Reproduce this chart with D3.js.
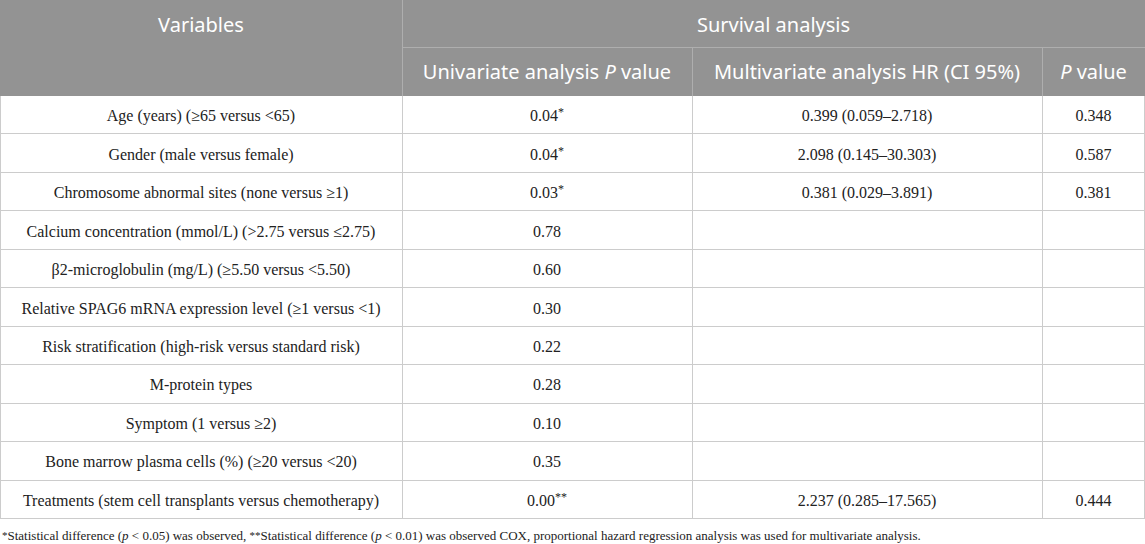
<!DOCTYPE html>
<html>
<head>
<meta charset="utf-8">
<script src="https://cdn.jsdelivr.net/npm/d3@7"></script>
<style>
  body { margin: 0; background: #fff; }
  svg { display: block; }
</style>
</head>
<body>
<svg id="table" width="1145" height="544"></svg>
<script>
// table contents
var variables = [
  "Age (years) (\u226565 versus <65)",
  "Gender (male versus female)",
  "Chromosome abnormal sites (none versus \u22651)",
  "Calcium concentration (mmol/L) (>2.75 versus \u22642.75)",
  "\u03b22-microglobulin (mg/L) (\u22655.50 versus <5.50)",
  "Relative SPAG6 mRNA expression level (\u22651 versus <1)",
  "Risk stratification (high-risk versus standard risk)",
  "M-protein types",
  "Symptom (1 versus \u22652)",
  "Bone marrow plasma cells (%) (\u226520 versus <20)",
  "Treatments (stem cell transplants versus chemotherapy)"
];
var univariateP = ["0.04*", "0.04*", "0.03*", "0.78", "0.60", "0.30", "0.22", "0.28", "0.10", "0.35", "0.00**"];
var multivariateHR = ["0.399 (0.059\u20132.718)", "2.098 (0.145\u201330.303)", "0.381 (0.029\u20133.891)", "", "", "", "", "", "", "", "2.237 (0.285\u201317.565)"];
var multivariateP = ["0.348", "0.587", "0.381", "", "", "", "", "", "", "", "0.444"];

var W = 1145;
var colEdges = [0, 402, 692, 1042, W];
var headTop = 0, headMid = 47.5, headBottom = 96, bodyBottom = 519;

var svg = d3.select("#table");

var headerFont = "'Noto Sans', 'Open Sans', sans-serif";
var bodyFont = "'Liberation Serif', 'DejaVu Serif', serif";

// header background
svg.append("rect")
  .attr("x", 0).attr("y", headTop)
  .attr("width", W).attr("height", headBottom - headTop)
  .attr("fill", "#939393");

// row scale
var rowScale = d3.scaleBand()
  .domain(d3.range(variables.length))
  .range([headBottom, bodyBottom]);

// header lines
var hl = svg.append("g").attr("stroke", "#aeaeae").attr("stroke-width", 1);
hl.append("line").attr("x1", colEdges[1]).attr("x2", W).attr("y1", headMid).attr("y2", headMid);
hl.append("line").attr("x1", colEdges[1] + 0.5).attr("x2", colEdges[1] + 0.5).attr("y1", 0).attr("y2", headBottom);
hl.selectAll(".hv").data([colEdges[2], colEdges[3]]).enter().append("line")
  .attr("x1", function(d) { return d + 0.5; })
  .attr("x2", function(d) { return d + 0.5; })
  .attr("y1", headMid).attr("y2", headBottom);

// header text
function headText(x, y, parts) {
  var t = svg.append("text")
    .attr("x", x).attr("y", y)
    .attr("text-anchor", "middle")
    .attr("dominant-baseline", "central")
    .attr("fill", "#ffffff")
    .style("font-family", headerFont)
    .style("font-size", "20px");
  parts.forEach(function(p) {
    t.append("tspan").text(p[0]).style("font-style", p[1] ? "italic" : "normal");
  });
}
headText((colEdges[0] + colEdges[1]) / 2, 24, [["Variables", false]]);
headText((colEdges[1] + colEdges[4]) / 2, 24, [["Survival analysis", false]]);
headText((colEdges[1] + colEdges[2]) / 2, 71, [["Univariate analysis ", false], ["P", true], [" value", false]]);
headText((colEdges[2] + colEdges[3]) / 2, 71, [["Multivariate analysis HR (CI 95%)", false]]);
headText((colEdges[3] + colEdges[4]) / 2, 71, [["P", true], [" value", false]]);

// body grid
var grid = svg.append("g").attr("stroke", "#cccccc").attr("stroke-width", 1);
grid.selectAll(".hline").data(d3.range(1, variables.length + 1)).enter().append("line")
  .attr("x1", 0).attr("x2", W)
  .attr("y1", function(d) { return Math.round(rowScale(d) || bodyBottom) - 0.5; })
  .attr("y2", function(d) { return Math.round(rowScale(d) || bodyBottom) - 0.5; });
grid.selectAll(".vline").data([0.5, colEdges[1] + 0.5, colEdges[2] + 0.5, colEdges[3] + 0.5, W - 0.5]).enter().append("line")
  .attr("x1", function(d) { return d; }).attr("x2", function(d) { return d; })
  .attr("y1", headBottom).attr("y2", bodyBottom);

// body cells
var columns = [variables, univariateP, multivariateHR, multivariateP];
columns.forEach(function(col, ci) {
  var cx = (colEdges[ci] + colEdges[ci + 1]) / 2;
  svg.append("g").selectAll("text").data(col).enter().append("text")
    .attr("x", cx)
    .attr("y", function(d, i) { return rowScale(i) + rowScale.bandwidth() / 2; })
    .attr("text-anchor", "middle")
    .attr("dominant-baseline", "central")
    .attr("fill", "#222")
    .style("font-family", bodyFont)
    .style("font-size", "16px")
    .each(function(d) {
      var m = d.match(/^([^*]*)(\**)$/);
      var t = d3.select(this);
      t.append("tspan").text(m[1]);
      if (m[2]) {
        t.append("tspan").text(m[2]).style("font-size", "12px").attr("dy", "-3");
      }
    });
});

// footnote
var foot = svg.append("text")
  .attr("x", 2).attr("y", 535)
  .attr("dominant-baseline", "central")
  .attr("fill", "#222")
  .style("font-family", bodyFont)
  .style("font-size", "13px");
var footParts = [
  ["*", false, true], ["Statistical difference (", false], ["p", true], [" < 0.05) was observed, ", false],
  ["**", false, true], ["Statistical difference (", false], ["p", true],
  [" < 0.01) was observed COX, proportional hazard regression analysis was used for multivariate analysis.", false]
];
footParts.forEach(function(p) {
  var s = foot.append("tspan").text(p[0]).style("font-style", p[1] ? "italic" : "normal");
  if (p[2]) s.style("font-size", "11px");
});
</script>
</body>
</html>
